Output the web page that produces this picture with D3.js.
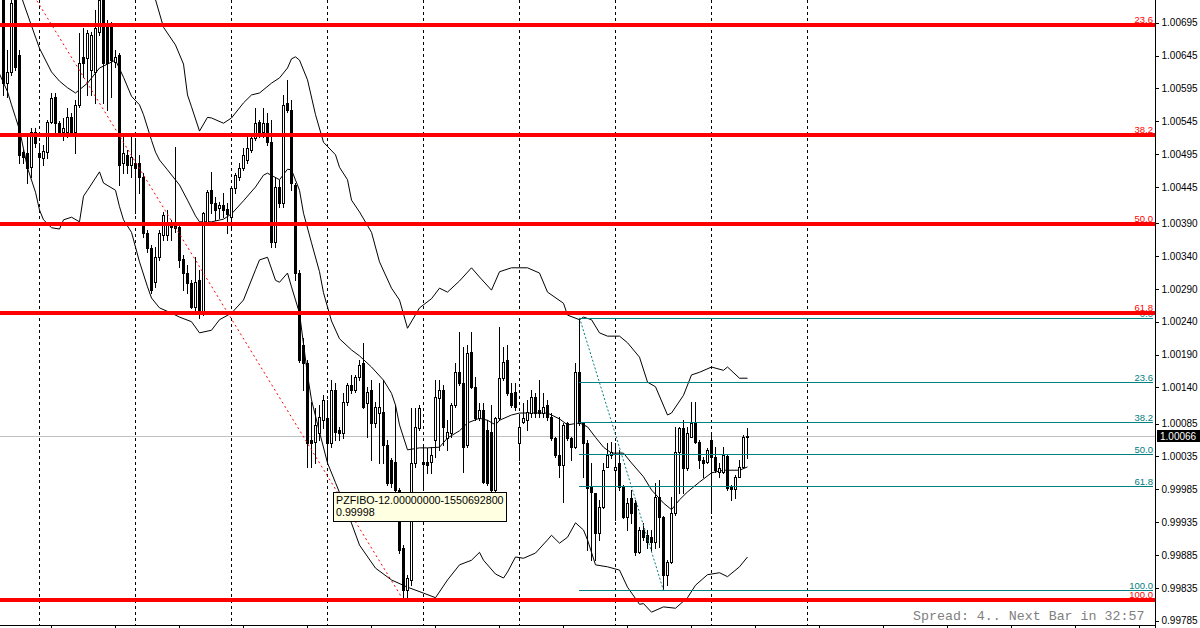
<!DOCTYPE html>
<html><head><meta charset="utf-8">
<script src="https://cdn.jsdelivr.net/npm/d3@7"></script>
<style>body{margin:0;background:#fff;overflow:hidden}svg{display:block}</style>
</head><body>
<svg id="c" width="1200" height="628"></svg>
<script>
// ---- Candle data (H1 bars, index 0..186) ----
const opens = [1.00737,1.00603,1.00620,1.00729,1.00646,1.00498,1.00497,1.00475,1.00529,1.00497,
1.00489,1.00498,1.00544,1.00582,1.00542,1.00529,1.00529,1.00551,1.00529,1.00570,
1.00643,1.00641,1.00623,1.00620,1.00681,1.00729,1.00688,1.00688,1.00635,1.00646,
1.00481,1.00494,1.00478,1.00481,1.00481,1.00460,1.00375,1.00352,1.00300,1.00338,
1.00372,1.00372,1.00392,1.00390,1.00384,1.00335,1.00314,1.00299,1.00262,1.00303,
1.00253,1.00390,1.00440,1.00421,1.00413,1.00418,1.00411,1.00399,1.00443,1.00460,
1.00474,1.00486,1.00501,1.00520,1.00544,1.00529,1.00542,1.00513,1.00361,1.00445,
1.00421,1.00573,1.00562,1.00448,1.00314,1.00205,1.00177,1.00060,1.00057,1.00071,
1.00090,1.00093,1.00055,1.00136,1.00075,1.00071,1.00118,1.00144,1.00136,1.00156,
1.00177,1.00116,1.00136,1.00086,1.00101,1.00103,1.00052,1.00030,1.00027,0.99984,
0.99896,0.99832,0.99847,1.00025,1.00078,1.00027,1.00027,1.00027,1.00060,1.00124,
1.00136,1.00063,1.00071,1.00113,1.00163,1.00147,1.00052,1.00194,1.00141,1.00093,
1.00106,1.00075,1.00072,0.99984,1.00093,1.00154,1.00182,1.00131,1.00133,1.00055,
1.00087,1.00090,1.00101,1.00125,1.00106,1.00101,1.00113,1.00095,1.00063,1.00037,
1.00022,1.00086,1.00063,1.00049,1.00163,1.00086,1.00055,0.99988,0.99979,0.99918,
0.99958,1.00019,1.00037,1.00014,1.00025,0.99988,0.99943,0.99972,0.99964,0.99889,
0.99923,0.99915,0.99912,0.99905,0.99973,0.99943,0.99855,0.99874,0.99949,1.00042,
1.00078,1.00017,1.00064,1.00086,1.00057,1.00030,1.00027,1.00060,1.00034,1.00011,
1.00011,1.00036,0.99988,0.99985,1.00004,1.00019,1.00064];
const highs = [1.00752,1.00653,1.00745,1.00745,1.00653,1.00501,1.00527,1.00535,1.00535,1.00512,
1.00509,1.00547,1.00588,1.00588,1.00545,1.00550,1.00565,1.00558,1.00577,1.00679,
1.00687,1.00684,1.00681,1.00714,1.00737,1.00737,1.00699,1.00696,1.00653,1.00649,
1.00521,1.00501,1.00521,1.00516,1.00494,1.00466,1.00380,1.00357,1.00354,1.00380,
1.00407,1.00410,1.00395,1.00506,1.00392,1.00342,1.00326,1.00303,1.00338,1.00319,
1.00407,1.00440,1.00468,1.00430,1.00422,1.00436,1.00421,1.00445,1.00466,1.00481,
1.00504,1.00521,1.00527,1.00565,1.00547,1.00565,1.00558,1.00547,1.00460,1.00456,
1.00585,1.00608,1.00577,1.00451,1.00319,1.00215,1.00182,1.00118,1.00109,1.00113,
1.00128,1.00121,1.00151,1.00147,1.00080,1.00131,1.00147,1.00159,1.00159,1.00182,
1.00208,1.00141,1.00151,1.00118,1.00147,1.00151,1.00060,1.00033,1.00113,0.99987,
0.99900,0.99855,1.00109,1.00109,1.00113,1.00049,1.00048,1.00049,1.00151,1.00151,
1.00144,1.00090,1.00116,1.00177,1.00224,1.00202,1.00205,1.00224,1.00156,1.00116,
1.00116,1.00090,1.00113,1.00095,1.00232,1.00202,1.00205,1.00147,1.00147,1.00095,
1.00116,1.00121,1.00136,1.00131,1.00151,1.00131,1.00121,1.00101,1.00064,1.00095,
1.00086,1.00087,1.00064,1.00177,1.00246,1.00087,1.00060,1.00025,0.99979,0.99969,
1.00025,1.00055,1.00057,1.00055,1.00045,0.99991,0.99972,0.99984,0.99969,0.99928,
0.99934,0.99923,0.99923,0.99995,0.99999,0.99944,0.99877,0.99973,1.00080,1.00080,
1.00090,1.00080,1.00118,1.00118,1.00060,1.00034,1.00048,1.00068,1.00049,1.00025,
1.00049,1.00037,0.99991,1.00007,1.00030,1.00068,1.00078];
const lows = [1.00585,1.00582,1.00615,1.00623,1.00481,1.00481,1.00451,1.00460,1.00506,1.00430,
1.00478,1.00489,1.00542,1.00529,1.00527,1.00516,1.00521,1.00526,1.00497,1.00567,
1.00612,1.00585,1.00585,1.00573,1.00676,1.00573,1.00562,1.00582,1.00628,1.00448,
1.00466,1.00466,1.00460,1.00405,1.00436,1.00369,1.00346,1.00284,1.00293,1.00334,
1.00364,1.00364,1.00364,1.00376,1.00323,1.00288,1.00284,1.00261,1.00258,1.00246,
1.00250,1.00387,1.00405,1.00395,1.00398,1.00399,1.00375,1.00384,1.00436,1.00456,
1.00471,1.00481,1.00498,1.00516,1.00521,1.00521,1.00509,1.00354,1.00354,1.00415,
1.00415,1.00559,1.00440,1.00303,1.00179,1.00136,1.00019,1.00019,1.00025,1.00060,
1.00078,1.00025,1.00049,1.00060,1.00060,1.00063,1.00113,1.00131,1.00133,1.00151,
1.00109,1.00064,1.00030,1.00080,1.00025,1.00025,0.99991,0.99988,0.99976,0.99888,
0.99815,0.99820,0.99839,1.00019,1.00075,0.99984,1.00010,1.00010,1.00034,1.00045,
1.00052,1.00045,1.00064,1.00110,1.00144,1.00011,1.00049,1.00139,1.00090,1.00090,
0.99995,0.99991,0.99981,0.99981,1.00090,1.00151,1.00128,1.00110,1.00106,1.00030,
1.00086,1.00075,1.00095,1.00095,1.00095,1.00095,1.00090,1.00060,1.00034,1.00004,
0.99966,1.00060,1.00030,1.00048,1.00083,1.00004,0.99893,0.99877,0.99877,0.99908,
0.99957,1.00019,1.00033,0.99938,0.99984,0.99941,0.99923,0.99934,0.99885,0.99888,
0.99908,0.99896,0.99893,0.99896,0.99897,0.99832,0.99839,0.99873,0.99946,0.99979,
0.99979,1.00014,1.00064,1.00055,1.00017,1.00004,1.00025,0.99949,1.00011,1.00004,
1.00010,0.99984,0.99969,0.99972,1.00004,1.00017,1.00033];
const closes = [1.00603,1.00620,1.00725,1.00628,1.00494,1.00491,1.00474,1.00529,1.00512,1.00491,
1.00500,1.00544,1.00580,1.00542,1.00529,1.00535,1.00551,1.00529,1.00570,1.00634,
1.00634,1.00679,1.00676,1.00687,1.00729,1.00634,1.00634,1.00638,1.00643,1.00478,
1.00497,1.00478,1.00491,1.00474,1.00460,1.00375,1.00352,1.00288,1.00338,1.00375,
1.00402,1.00392,1.00384,1.00383,1.00334,1.00314,1.00299,1.00262,1.00300,1.00253,
1.00405,1.00437,1.00421,1.00410,1.00418,1.00410,1.00404,1.00443,1.00463,1.00474,
1.00494,1.00504,1.00520,1.00542,1.00527,1.00542,1.00513,1.00361,1.00445,1.00421,
1.00570,1.00562,1.00451,1.00314,1.00182,1.00177,1.00055,1.00055,1.00083,1.00095,
1.00121,1.00055,1.00136,1.00072,1.00071,1.00118,1.00144,1.00136,1.00156,1.00174,
1.00110,1.00133,1.00086,1.00110,1.00110,1.00052,0.99995,0.99995,0.99984,0.99893,
0.99832,0.99850,1.00025,1.00080,1.00109,1.00023,1.00022,1.00037,1.00125,1.00136,
1.00080,1.00072,1.00113,1.00163,1.00147,1.00049,1.00192,1.00141,1.00093,1.00106,
0.99996,0.99995,0.99984,1.00093,1.00154,1.00179,1.00131,1.00113,1.00110,1.00080,
1.00093,1.00103,1.00125,1.00101,1.00101,1.00110,1.00095,1.00063,1.00037,1.00022,
1.00083,1.00063,1.00049,1.00163,1.00086,1.00055,0.99987,0.99981,0.99918,0.99958,
1.00014,1.00037,1.00042,1.00019,0.99988,0.99943,0.99964,0.99949,0.99889,0.99923,
0.99912,0.99905,0.99905,0.99973,0.99943,0.99855,0.99874,0.99949,1.00042,1.00078,
1.00017,1.00071,1.00086,1.00057,1.00030,1.00025,1.00045,1.00034,1.00014,1.00017,
1.00037,0.99987,0.99985,1.00004,1.00019,1.00064,1.00066];

// ---- Bollinger bands: [bar index, price] ----
const upperBand = [[36,1.00771],[38,1.00730],[40,1.00688],[43,1.00661],[45,1.00632],[46,1.00585],[47,1.00567],[49,1.00530],[51,1.00551],[52,1.00550],[55,1.00542],[57,1.00550],[60,1.00573],[62,1.00585],[64,1.00588],[67,1.00603],[69,1.00611],[71,1.00626],[72,1.00640],[73,1.00643],[74,1.00638],[76,1.00608],[78,1.00555],[80,1.00513],[83,1.00494],[84,1.00475],[86,1.00456],[87,1.00425],[89,1.00407],[92,1.00376],[94,1.00331],[97,1.00291],[99,1.00273],[101,1.00230],[104,1.00261],[107,1.00275],[109,1.00291],[111,1.00285],[114,1.00302],[117,1.00322],[119,1.00308],[122,1.00288],[124,1.00316],[127,1.00322],[131,1.00322],[134,1.00314],[136,1.00285],[140,1.00268],[141,1.00250],[144,1.00243],[145,1.00247],[147,1.00243],[149,1.00223],[151,1.00218],[154,1.00218],[156,1.00208],[159,1.00186],[161,1.00148],[163,1.00141],[166,1.00098],[167,1.00101],[170,1.00128],[172,1.00159],[174,1.00163],[177,1.00171],[180,1.00166],[181,1.00171],[184,1.00154],[186,1.00154]];
const middleBand = [[3,1.00762],[5,1.00725],[8,1.00673],[9,1.00656],[12,1.00620],[14,1.00606],[16,1.00596],[18,1.00588],[19,1.00593],[21,1.00603],[24,1.00626],[27,1.00635],[28,1.00638],[30,1.00612],[32,1.00583],[34,1.00570],[35,1.00555],[37,1.00516],[38,1.00498],[39,1.00486],[41,1.00471],[44,1.00448],[46,1.00425],[48,1.00401],[49,1.00392],[52,1.00392],[55,1.00396],[57,1.00404],[60,1.00424],[63,1.00445],[65,1.00463],[66,1.00466],[69,1.00456],[71,1.00472],[72,1.00471],[74,1.00440],[75,1.00405],[77,1.00360],[79,1.00316],[80,1.00284],[82,1.00241],[84,1.00214],[87,1.00197],[89,1.00188],[92,1.00171],[95,1.00151],[97,1.00131],[98,1.00113],[99,1.00083],[101,1.00045],[104,1.00048],[106,1.00048],[109,1.00049],[111,1.00063],[114,1.00074],[116,1.00086],[119,1.00093],[121,1.00090],[123,1.00083],[124,1.00090],[127,1.00098],[129,1.00101],[133,1.00101],[136,1.00101],[139,1.00092],[141,1.00083],[144,1.00086],[146,1.00080],[148,1.00064],[150,1.00049],[152,1.00040],[155,1.00040],[157,1.00025],[160,1.00004],[162,0.99984],[165,0.99964],[167,0.99954],[169,0.99969],[171,0.99981],[174,0.99996],[177,1.00010],[180,1.00014],[184,1.00014],[186,1.00019]];
const lowerBand = [[-1,1.00617],[1,1.00590],[2,1.00570],[3,1.00551],[4,1.00532],[6,1.00474],[8,1.00437],[9,1.00410],[10,1.00395],[12,1.00383],[14,1.00381],[15,1.00395],[17,1.00399],[19,1.00392],[20,1.00431],[21,1.00440],[24,1.00468],[25,1.00451],[28,1.00440],[29,1.00415],[30,1.00395],[32,1.00376],[34,1.00331],[36,1.00293],[37,1.00276],[39,1.00261],[42,1.00253],[44,1.00247],[47,1.00240],[49,1.00223],[52,1.00227],[54,1.00243],[57,1.00253],[60,1.00273],[63,1.00319],[64,1.00334],[66,1.00338],[68,1.00303],[69,1.00300],[71,1.00314],[72,1.00293],[74,1.00253],[76,1.00159],[77,1.00121],[79,1.00072],[81,1.00025],[83,0.99995],[86,0.99950],[89,0.99900],[93,0.99865],[97,0.99847],[101,0.99836],[105,0.99827],[108,0.99820],[111,0.99847],[114,0.99870],[117,0.99877],[119,0.99889],[120,0.99877],[123,0.99856],[125,0.99850],[126,0.99859],[128,0.99882],[130,0.99880],[133,0.99888],[136,0.99908],[137,0.99915],[139,0.99903],[141,0.99912],[143,0.99934],[145,0.99923],[146,0.99908],[148,0.99870],[151,0.99867],[154,0.99862],[156,0.99836],[159,0.99810],[160,0.99811],[162,0.99798],[165,0.99806],[168,0.99804],[171,0.99820],[173,0.99839],[176,0.99855],[179,0.99858],[181,0.99852],[184,0.99867],[186,0.99882]];

// ---- Fibonacci objects ----
const redFibLabels = ["0.0","23.6","38.2","50.0","61.8","100.0"];
const redFibPrices = [1.00962,1.00691,1.00524,1.00389,1.00253,0.99816];
const redFibAnchors = [[-15,1.00962],[100,0.99816]];
const tealFibLabels = ["0.0","23.6","38.2","50.0","61.8","100.0"];
const tealFibPrices = [1.00246,1.00148,1.00088,1.00039,0.99990,0.99831];
const tealFibAnchors = [[144,1.00246],[165,0.99831]];

// ---- Axes ----
const priceTicks = [1.00695,1.00645,1.00595,1.00545,1.00495,1.00445,1.00390,1.00340,1.00290,1.00240,1.00190,1.00140,1.00085,1.00035,0.99985,0.99935,0.99885,0.99835,0.99785];
const separatorBars = [9,33,57,81,105,129,153,177,201];
const timeTickBars = [12,28,44,60,76,92,108,124,140,156,172,188,204,220,236,252,268,284];
const currentPrice = 1.00066;
const tooltipLines = ["PZFIBO-12.00000000-1550692800","0.99998"];
const statusText = "Spread: 4.. Next Bar in 32:57";

// ---- Layout ----
const W = 1200, H = 628, plotR = 1155, plotB = 625;
const svg = d3.select("#c");
const x = d3.scaleLinear().domain([0, 288]).range([3, 1155]);
const y = d3.scaleLinear().domain([0.997739, 1.007295]).range([628, 0]);
const F = "'Liberation Sans', Arial, sans-serif";
const visible = p => y(p) > 8 && y(p) < plotB;

svg.append("rect").attr("width", W).attr("height", H).attr("fill", "#fff");
svg.append("defs").append("clipPath").attr("id", "plot")
  .append("rect").attr("x", 0).attr("y", 0).attr("width", plotR).attr("height", plotB);
const g = svg.append("g").attr("clip-path", "url(#plot)");

// period separators
g.selectAll("line.sep").data(separatorBars).join("line")
  .attr("x1", d => Math.round(x(d)) + 0.5).attr("x2", d => Math.round(x(d)) + 0.5)
  .attr("y1", 0).attr("y2", plotB)
  .attr("stroke", "#000").attr("stroke-width", 1).attr("stroke-dasharray", "3,3")
  .attr("shape-rendering", "crispEdges");

// current price line
g.append("line").attr("x1", 0).attr("x2", plotR)
  .attr("y1", Math.round(y(currentPrice)) + 0.5).attr("y2", Math.round(y(currentPrice)) + 0.5)
  .attr("stroke", "#c0c0c0").attr("shape-rendering", "crispEdges");

// Bollinger bands
const bandLine = d3.line().x(d => x(d[0]) + 0.5).y(d => y(d[1]));
[upperBand, middleBand, lowerBand].forEach(b => {
  g.append("path").attr("d", bandLine(b)).attr("fill", "none")
    .attr("stroke", "#000").attr("stroke-width", 1);
});

// candles
const bars = opens.map((o, i) => ({i, o, h: highs[i], l: lows[i], c: closes[i]}));
const cg = g.append("g").attr("shape-rendering", "crispEdges");
bars.forEach(d => {
  const cx = Math.round(x(d.i));
  cg.append("line").attr("x1", cx + 0.5).attr("x2", cx + 0.5)
    .attr("y1", Math.round(y(d.h))).attr("y2", Math.round(y(d.l)) + 1)
    .attr("stroke", "#000");
  const top = Math.round(y(Math.max(d.o, d.c)));
  const bot = Math.round(y(Math.min(d.o, d.c)));
  if (d.c < d.o) {
    cg.append("rect").attr("x", cx - 1).attr("y", top).attr("width", 3)
      .attr("height", Math.max(1, bot - top + 1)).attr("fill", "#000");
  } else {
    cg.append("rect").attr("x", cx - 0.5).attr("y", top + 0.5).attr("width", 2)
      .attr("height", Math.max(0, bot - top)).attr("fill", "#fff").attr("stroke", "#000");
  }
});

// teal fibo (second one)
const tealX0 = Math.round(x(tealFibAnchors[0][0]));
g.selectAll("line.tf").data(tealFibPrices).join("line")
  .attr("x1", tealX0).attr("x2", plotR - 2)
  .attr("y1", d => Math.round(y(d)) + 0.5).attr("y2", d => Math.round(y(d)) + 0.5)
  .attr("stroke", "#008080").attr("shape-rendering", "crispEdges");
g.append("line")
  .attr("x1", x(tealFibAnchors[0][0]) + 0.5).attr("y1", y(tealFibAnchors[0][1]))
  .attr("x2", x(tealFibAnchors[1][0]) + 0.5).attr("y2", y(tealFibAnchors[1][1]))
  .attr("stroke", "#008080").attr("stroke-dasharray", "2,2");
const tealLab = tealFibPrices.map((p, i) => ({p, t: tealFibLabels[i]})).filter(d => visible(d.p));
g.selectAll("text.tf").data(tealLab).join("text")
  .attr("x", plotR - 2).attr("y", d => Math.round(y(d.p)) - 1)
  .attr("text-anchor", "end").attr("font-family", F).attr("font-size", 9.5)
  .attr("fill", "#008080").text(d => d.t);

// red fibo (first one)
g.selectAll("line.rf").data(redFibPrices).join("line")
  .attr("x1", 0).attr("x2", plotR)
  .attr("y1", d => Math.round(y(d))).attr("y2", d => Math.round(y(d)))
  .attr("stroke", "#ff0000").attr("stroke-width", 4).attr("shape-rendering", "crispEdges");
g.append("line")
  .attr("x1", x(redFibAnchors[0][0])).attr("y1", y(redFibAnchors[0][1]))
  .attr("x2", x(redFibAnchors[1][0]) + 0.5).attr("y2", y(redFibAnchors[1][1]))
  .attr("stroke", "#ff0000").attr("stroke-dasharray", "2,3");
const redLab = redFibPrices.map((p, i) => ({p, t: redFibLabels[i]})).filter(d => visible(d.p));
g.selectAll("text.rf").data(redLab).join("text")
  .attr("x", plotR - 2).attr("y", d => Math.round(y(d.p)) - 2)
  .attr("text-anchor", "end").attr("font-family", F).attr("font-size", 9.5)
  .attr("fill", "#ff0000").text(d => d.t);

// tooltip
const tt = svg.append("g").attr("transform", "translate(333,492)");
tt.append("rect").attr("x", 0.5).attr("y", 0.5).attr("width", 173).attr("height", 29)
  .attr("fill", "#ffffe1").attr("stroke", "#000").attr("shape-rendering", "crispEdges");
tt.selectAll("text").data(tooltipLines).join("text")
  .attr("x", 3).attr("y", (d, i) => 12 + i * 12)
  .attr("font-family", F).attr("font-size", 10.7).attr("fill", "#000").text(d => d);

// status text
svg.append("text").attr("x", 913).attr("y", 620)
  .attr("font-family", "'Liberation Mono', 'DejaVu Sans Mono', monospace")
  .attr("font-size", 13.3).attr("fill", "#808080").text(statusText);

// price axis
const ay = svg.append("g").attr("transform", `translate(${plotR + 0.5},0)`)
  .call(d3.axisRight(y).tickValues(priceTicks).tickFormat(d3.format(".5f")).tickSize(3).tickPadding(3));
ay.select(".domain").attr("d", `M0,0V${H}`).attr("stroke", "#000");
ay.selectAll(".tick line").attr("stroke", "#000").attr("shape-rendering", "crispEdges");
ay.selectAll(".tick text").attr("font-family", F).attr("font-size", 10).attr("fill", "#000");

// time axis (labels below the visible area)
const ax = svg.append("g").attr("transform", `translate(0,${plotB + 0.5})`)
  .call(d3.axisBottom(x).tickValues(timeTickBars).tickFormat("").tickSize(3));
ax.select(".domain").attr("d", `M0,0H${plotR}`).attr("stroke", "#000");
ax.selectAll(".tick line").attr("stroke", "#000").attr("shape-rendering", "crispEdges");

// current price tag
const cy = Math.round(y(currentPrice));
svg.append("rect").attr("x", plotR + 2).attr("y", cy - 6).attr("width", 43).attr("height", 12).attr("fill", "#000");
svg.append("text").attr("x", plotR + 5).attr("y", cy).attr("dy", "0.35em")
  .attr("font-family", F).attr("font-size", 10).attr("fill", "#fff").text(d3.format(".5f")(currentPrice));
</script>
</body></html>
